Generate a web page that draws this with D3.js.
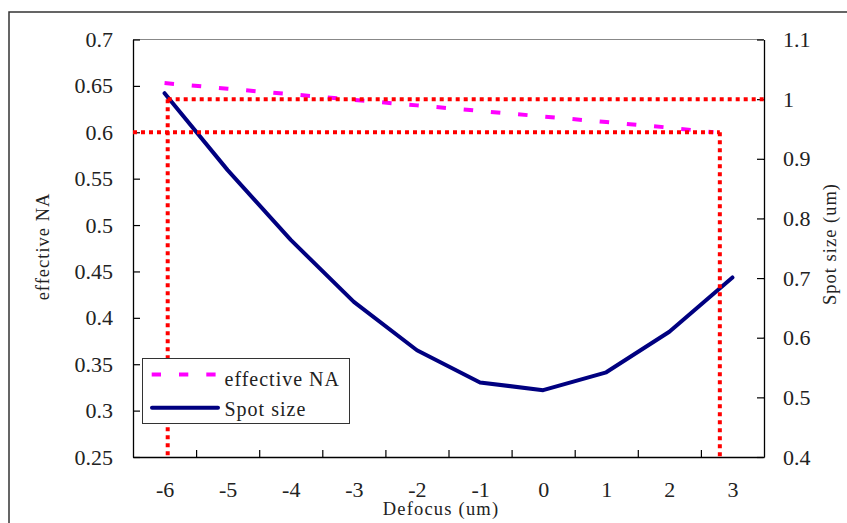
<!DOCTYPE html>
<html>
<head>
<meta charset="utf-8">
<script src="https://cdn.jsdelivr.net/npm/d3@7/dist/d3.min.js"></script>
<style>
  html, body { margin: 0; padding: 0; background: #fff; }
  svg { display: block; }
  text { font-family: "Liberation Serif", "Times New Roman", serif; fill: #222; }
</style>
</head>
<body>
<svg id="chart" width="847" height="523"></svg>
<script>
// Defocus categories (um) and the two measured series
const defocus = [-6, -5, -4, -3, -2, -1, 0, 1, 2, 3];
const spotSize = [1.010, 0.881, 0.764, 0.660, 0.579, 0.525, 0.512, 0.542, 0.610, 0.701];
const naDefocus = [-6, -5, -4, -3, -2, -1, 0, 1, 2, 2.7];
const effectiveNA = [0.653, 0.647, 0.641, 0.635, 0.629, 0.623, 0.617, 0.611, 0.605, 0.600];

// Axis ticks
const naTicks = [0.25, 0.3, 0.35, 0.4, 0.45, 0.5, 0.55, 0.6, 0.65, 0.7];
const spotTicks = [0.4, 0.5, 0.6, 0.7, 0.8, 0.9, 1, 1.1];

// Guide lines: NA limit and spot-size limit with the defocus where each is reached
const naLimit = 0.6;
const naLimitDefocus = 2.8;
const spotLimit = 1.0;
const spotLimitDefocus = -5.95;

const svg = d3.select("#chart");
const plot = { left: 133, right: 764, top: 39.5, bottom: 457 };

const x = d3.scaleLinear().domain([-6.5, 3.5]).range([plot.left, plot.right]);
const yNA = d3.scaleLinear().domain([0.25, 0.7]).range([plot.bottom, plot.top]);
const ySpot = d3.scaleLinear().domain([0.4, 1.1]).range([plot.bottom, plot.top]);

// Outer frame
svg.append("rect")
  .attr("x", 9).attr("y", 12).attr("width", 860).attr("height", 540)
  .attr("fill", "none").attr("stroke", "#333").attr("stroke-width", 1.5);

// Plot area top border
svg.append("line")
  .attr("x1", plot.left).attr("x2", plot.right)
  .attr("y1", plot.top).attr("y2", plot.top)
  .attr("stroke", "#888").attr("stroke-width", 1);

const fmt = d => String(d);

// Left axis
const gLeft = svg.append("g").attr("transform", `translate(${plot.left},0)`)
  .call(d3.axisLeft(yNA).tickValues(naTicks).tickFormat(fmt)
    .tickSizeInner(-7).tickSizeOuter(0).tickPadding(20));
// Right axis
const gRight = svg.append("g").attr("transform", `translate(${plot.right},0)`)
  .call(d3.axisRight(ySpot).tickValues(spotTicks).tickFormat(fmt)
    .tickSizeInner(-7).tickSizeOuter(0).tickPadding(19));
// Bottom axis: category labels at centres, ticks between categories
const gBottomLabels = svg.append("g").attr("transform", `translate(0,${plot.bottom})`)
  .call(d3.axisBottom(x).tickValues(defocus).tickFormat(fmt)
    .tickSize(0).tickPadding(24));
gBottomLabels.select(".domain").remove();
const bounds = defocus.slice(0, -1).map(d => d + 0.5);
const gBottom = svg.append("g").attr("transform", `translate(0,${plot.bottom})`)
  .call(d3.axisBottom(x).tickValues(bounds).tickFormat("")
    .tickSizeInner(-7).tickSizeOuter(0));

[gLeft, gRight, gBottom].forEach(g => {
  g.select(".domain").attr("stroke", "#000").attr("stroke-width", 1.3);
  g.selectAll(".tick line").attr("stroke", "#000").attr("stroke-width", 1.2);
});
[gLeft, gRight, gBottomLabels].forEach(g => {
  g.selectAll(".tick text")
    .style("font-family", '"Liberation Serif", serif')
    .style("font-size", "22px")
    .attr("fill", "#222");
});

// Axis titles
svg.append("text")
  .attr("x", 441).attr("y", 515)
  .attr("text-anchor", "middle")
  .style("font-size", "18.5px").style("letter-spacing", "1.2px")
  .text("Defocus (um)");
svg.append("text")
  .attr("transform", "translate(49,246.5) rotate(-90)")
  .attr("text-anchor", "middle")
  .style("font-size", "18.5px").style("letter-spacing", "1px")
  .text("effective NA");
svg.append("text")
  .attr("transform", "translate(836,244) rotate(-90)")
  .attr("text-anchor", "middle")
  .style("font-size", "18.5px").style("letter-spacing", "1px")
  .text("Spot size (um)");

// Series
const naLine = d3.line().x((d, i) => x(naDefocus[i])).y(d => yNA(d));
svg.append("path")
  .datum(effectiveNA)
  .attr("d", naLine)
  .attr("fill", "none").attr("stroke", "#ff00ff").attr("stroke-width", 4)
  .attr("stroke-dasharray", "9.5,17.8");

const spotLine = d3.line().x((d, i) => x(defocus[i])).y(d => ySpot(d));
svg.append("path")
  .datum(spotSize)
  .attr("d", spotLine)
  .attr("fill", "none").attr("stroke", "#000080").attr("stroke-width", 4)
  .attr("stroke-linejoin", "round").attr("stroke-linecap", "round");

// Red dotted guide lines
const guides = [
  [[x.domain()[0], yNA(naLimit)], [naLimitDefocus, yNA(naLimit)]],
  [[naLimitDefocus, yNA(naLimit)], [naLimitDefocus, yNA(0.25)]],
  [[spotLimitDefocus, ySpot(spotLimit)], [x.domain()[1], ySpot(spotLimit)]],
  [[spotLimitDefocus, ySpot(spotLimit)], [spotLimitDefocus, ySpot(0.4)]]
];
svg.append("g").selectAll("path")
  .data(guides)
  .join("path")
  .attr("d", d => d3.line().x(p => x(p[0])).y(p => p[1])(d))
  .attr("fill", "none").attr("stroke", "#ff0000").attr("stroke-width", 4)
  .attr("stroke-dasharray", "4,4");

// Legend
const lg = svg.append("g");
lg.append("rect")
  .attr("x", 142.5).attr("y", 358.5).attr("width", 207).attr("height", 65)
  .attr("fill", "#fff").attr("stroke", "#333").attr("stroke-width", 1);
lg.append("line")
  .attr("x1", 151.7).attr("x2", 216.5).attr("y1", 374.5).attr("y2", 374.5)
  .attr("stroke", "#ff00ff").attr("stroke-width", 4).attr("stroke-dasharray", "9.3,18");
lg.append("line")
  .attr("x1", 152).attr("x2", 218).attr("y1", 407.7).attr("y2", 407.7)
  .attr("stroke", "#000080").attr("stroke-width", 4).attr("stroke-linecap", "round");
lg.append("text").attr("x", 224.5).attr("y", 386)
  .style("font-size", "20px").style("letter-spacing", "1px").text("effective NA");
lg.append("text").attr("x", 224.5).attr("y", 416)
  .style("font-size", "20px").style("letter-spacing", "1px").text("Spot size");
</script>
</body>
</html>
